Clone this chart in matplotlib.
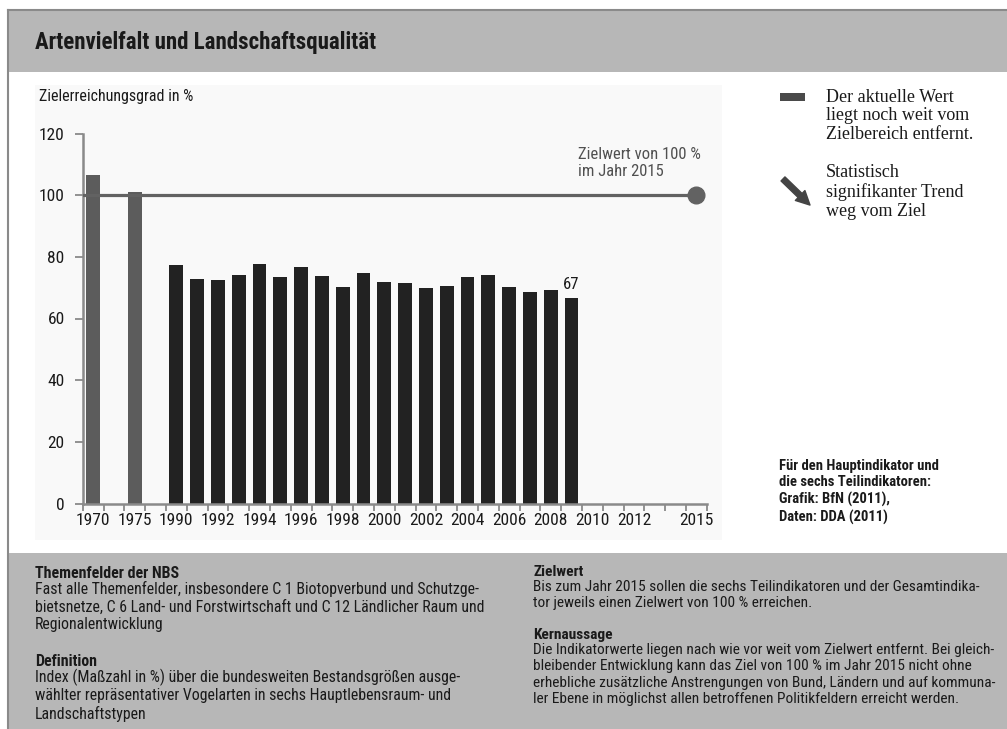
import matplotlib
matplotlib.use("Agg")
import matplotlib.pyplot as plt
from matplotlib import font_manager
from matplotlib.patches import Rectangle, FancyArrowPatch

# data
years = [1970, 1975] + list(range(1990, 2010))
values = [106.5, 101, 77.4, 72.9, 72.6, 74.2, 77.7, 73.6, 76.8, 73.9, 70.2,
          74.7, 71.8, 71.5, 69.8, 70.5, 73.3, 74.2, 70.1, 68.6, 69.2, 66.5]
last_label = "67"
tick_years = [1970, 1975, 1990, 1992, 1994, 1996, 1998, 2000, 2002, 2004,
              2006, 2008, 2010, 2012, 2015]
y_ticks = [0, 20, 40, 60, 80, 100, 120]
target_value = 100
target_year = 2015

W, H = 1007, 729

names = {f.name for f in font_manager.fontManager.ttflist}
sans = "DejaVu Sans"
for cand in ["Roboto Condensed", "Liberation Sans Narrow", "Open Sans Condensed", "Roboto"]:
    if cand in names:
        sans = cand
        break
serif = "Liberation Serif" if "Liberation Serif" in names else "DejaVu Serif"
plt.rcParams['font.family'] = [sans, 'DejaVu Sans']


def slot(y):
    # broken axis: 1970 and 1975 squeezed in front of the yearly bars
    return {1970: 0, 1975: 2}.get(y, y - 1986)


def fx(x):
    return x / W


def fy(y):
    return 1 - y / H


fig = plt.figure(figsize=(W / 100, H / 100), dpi=100)
fig.patch.set_facecolor("white")

band = "#b7b7b7"
# frame and grey bands
fig.add_artist(Rectangle((fx(8), fy(72)), fx(W - 8), 62 / H, transform=fig.transFigure,
                         facecolor=band, edgecolor="none", zorder=0))
fig.add_artist(Rectangle((fx(8), 0), fx(W - 8), (H - 553) / H, transform=fig.transFigure,
                         facecolor=band, edgecolor="none", zorder=0))
fig.add_artist(Rectangle((fx(35), fy(540)), fx(687), 455 / H, transform=fig.transFigure,
                         facecolor="#f9f9f9", edgecolor="none", zorder=0))
fig.add_artist(plt.Line2D([fx(8), fx(8)], [0, fy(10)], transform=fig.transFigure,
                          color="#8a8a8a", lw=1.5))
fig.add_artist(plt.Line2D([fx(8), 1], [fy(10), fy(10)], transform=fig.transFigure,
                          color="#8a8a8a", lw=1.5))

fig.text(fx(35), fy(43), "Artenvielfalt und Landschaftsqualität", fontsize=16.5,
         fontweight="semibold", color="#1a1a1a", va="center", ha="left")

# chart
ax = fig.add_axes([fx(82.7), fy(503.5), (706.7 - 82.7) / W, (503.5 - 133.5) / H])
ax.set_facecolor("none")
xs = [slot(y) for y in years]
cols = ["#5c5c5c" if y < 1990 else "#222222" for y in years]
ax.bar(xs, values, width=0.67, color=cols, zorder=2)
ax.plot([-0.5, slot(target_year)], [target_value, target_value], color="#626262", lw=2.3, zorder=3)
ax.plot([slot(target_year)], [target_value], "o", color="#626262", ms=12, zorder=4)
ax.text(xs[-1], values[-1] + 2, last_label, ha="center", va="bottom", fontsize=12, color="#1a1a1a")
ax.text(slot(2009) + 0.3, 110.5, "Zielwert von 100 %\nim Jahr 2015", ha="left", va="center",
        fontsize=12, color="#505050", linespacing=1.2)

ax.set_xlim(-0.5, 29.5)
ax.set_ylim(0, 120)
ax.set_yticks(y_ticks)
ax.set_yticklabels([str(v) for v in y_ticks], fontsize=12.5, color="#1a1a1a")
ax.set_xticks([slot(y) for y in tick_years])
ax.set_xticklabels([str(y) for y in tick_years], fontsize=12.5, color="#1a1a1a")
ax.set_xticks([k - 0.5 for k in range(31)], minor=True)
ax.tick_params(axis="x", which="major", length=0, pad=7)
ax.tick_params(axis="x", which="minor", length=5, width=1.3, color="#8a8a8a", direction="out")
ax.tick_params(axis="y", length=6, width=1.3, color="#8a8a8a", pad=7)
for s in ["top", "right"]:
    ax.spines[s].set_visible(False)
for s in ["left", "bottom"]:
    ax.spines[s].set_color("#8a8a8a")
    ax.spines[s].set_linewidth(1.8)

fig.text(fx(39), fy(97), "Zielerreichungsgrad in %", fontsize=11.5, color="#1a1a1a",
         va="center", ha="left")

# legend on the right
fig.add_artist(Rectangle((fx(780), fy(101)), fx(25), 8 / H, transform=fig.transFigure,
                         facecolor="#4a4a4a", edgecolor="none"))
fig.text(fx(826), fy(116), "Der aktuelle Wert\nliegt noch weit vom\nZielbereich entfernt.",
         family=serif, fontsize=13, color="#1a1a1a", va="center", ha="left", linespacing=1.12)
fig.add_artist(FancyArrowPatch((fx(781), fy(177)), (fx(812), fy(207)),
                               transform=fig.transFigure,
                               arrowstyle="simple,head_width=1.1,head_length=1.1,tail_width=0.45",
                               mutation_scale=9, color="#444444"))
fig.text(fx(826), fy(192), "Statistisch\nsignifikanter Trend\nweg vom Ziel",
         family=serif, fontsize=13, color="#1a1a1a", va="center", ha="left", linespacing=1.12)

fig.text(fx(779), fy(492), "Für den Hauptindikator und\ndie sechs Teilindikatoren:\nGrafik: BfN (2011),\nDaten: DDA (2011)",
         fontsize=10.5, fontweight="semibold", color="#1a1a1a", va="center", ha="left",
         linespacing=1.25)

# bottom text block
def block(x, y, head, body, size):
    fig.text(fx(x), fy(y), head, fontsize=size, fontweight="semibold", color="#1a1a1a",
             va="center", ha="left")
    fig.text(fx(x), fy(y + 8), body, fontsize=size, color="#1a1a1a", va="top", ha="left",
             linespacing=1.17 * 11.5 / size)


block(35, 573, "Themenfelder der NBS",
      "Fast alle Themenfelder, insbesondere C 1 Biotopverbund und Schutzge-\n"
      "bietsnetze, C 6 Land- und Forstwirtschaft und C 12 Ländlicher Raum und\n"
      "Regionalentwicklung", 11.4)
block(35, 661, "Definition",
      "Index (Maßzahl in %) über die bundesweiten Bestandsgrößen ausge-\n"
      "wählter repräsentativer Vogelarten in sechs Hauptlebensraum- und\n"
      "Landschaftstypen", 11.4)
block(533, 572, "Zielwert",
      "Bis zum Jahr 2015 sollen die sechs Teilindikatoren und der Gesamtindika-\n"
      "tor jeweils einen Zielwert von 100 % erreichen.", 11.1)
block(533, 635, "Kernaussage",
      "Die Indikatorwerte liegen nach wie vor weit vom Zielwert entfernt. Bei gleich-\n"
      "bleibender Entwicklung kann das Ziel von 100 % im Jahr 2015 nicht ohne\n"
      "erhebliche zusätzliche Anstrengungen von Bund, Ländern und auf kommuna-\n"
      "ler Ebene in möglichst allen betroffenen Politikfeldern erreicht werden.", 11.1)

fig.savefig("out.png", dpi=100)
